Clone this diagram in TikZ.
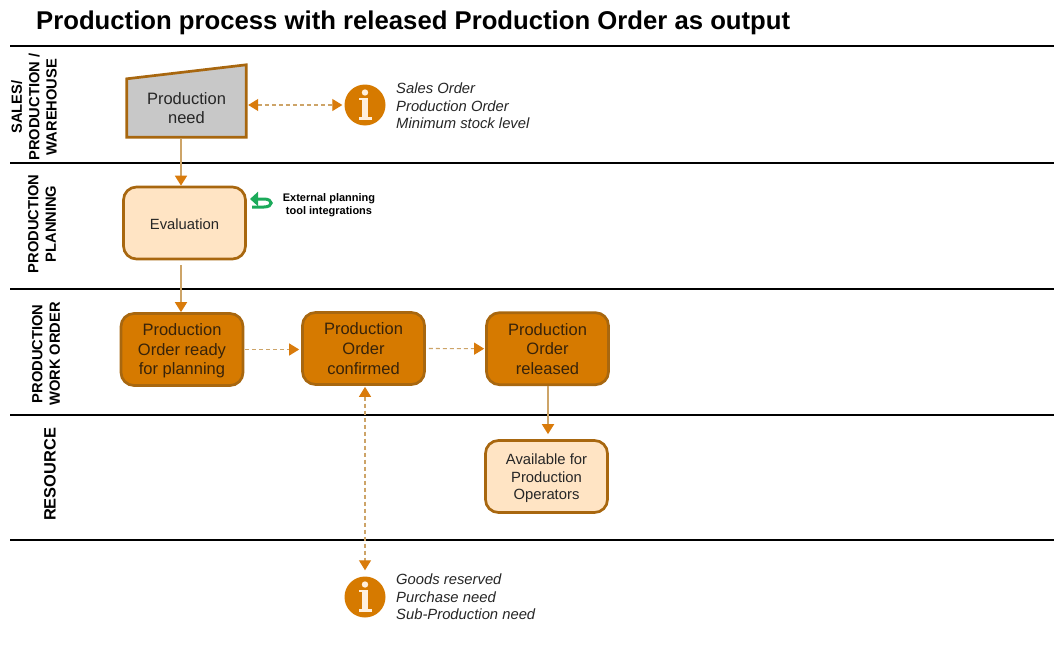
\documentclass[tikz,border=0pt]{standalone}
\usepackage{fontspec}
\setmainfont{Liberation Sans}
\usetikzlibrary{arrows.meta,backgrounds,calc}
\definecolor{tipc}{HTML}{D97B0B}
\definecolor{linec}{HTML}{CDA468}
\definecolor{edge}{HTML}{A8670F}
\definecolor{darkf}{HTML}{D67A00}
\definecolor{lightf}{HTML}{FFE4C4}
\definecolor{greyf}{HTML}{C8C8C8}
\definecolor{txt}{HTML}{262626}
\definecolor{darktxt}{HTML}{38230A}
\definecolor{gr}{HTML}{1BAA5A}
\tikzset{
  x=1pt,y=-1pt,
  lane/.style={draw=black,line width=1.4pt},
  lanelabel/.style={rotate=90,align=center,font=\fontsize{14.7}{17.4}\selectfont\bfseries,text=black,inner sep=0pt},
  box/.style={draw=edge,rounded corners=13pt,line width=2.7pt,minimum width=122pt,minimum height=72pt,inner sep=0pt,align=center},
  darkbox/.style={box,fill=darkf,text=darktxt,font=\fontsize{16.5}{19.6}\selectfont},
  lightbox/.style={box,fill=lightf,text=txt,font=\fontsize{14.8}{17.6}\selectfont},
  info/.style={circle,fill=darkf,minimum size=41pt,inner sep=0pt},
  note/.style={anchor=west,align=left,inner sep=0pt,text=txt,font=\fontsize{14.8}{17.7}\selectfont\itshape},
  flow/.style={draw=linec,line width=1.8pt,-{Triangle[length=10pt,width=12pt,color=tipc]}},
  dflow/.style={flow,dashed,line width=1.1pt,dash pattern=on 4pt off 3pt},
  bflow/.style={dflow,{Triangle[length=10pt,width=12pt,color=tipc]}-{Triangle[length=10pt,width=12pt,color=tipc]}},
}
\newcommand{\infoglyph}[1]{%
  \fill[lightf!60!white] ([shift={(0,-12.5)}]#1.center) circle (3.2pt);
  \fill[lightf!60!white] ([shift={(-6,-7)}]#1.center) rectangle ([shift={(3,-4.6)}]#1.center);
  \fill[lightf!60!white] ([shift={(-3,-7)}]#1.center) rectangle ([shift={(3,13)}]#1.center);
  \fill[lightf!60!white] ([shift={(-6,12)}]#1.center) rectangle ([shift={(6.5,15)}]#1.center);
}
\begin{document}
\begin{tikzpicture}
\useasboundingbox (0,0) rectangle (1054,661);
\begin{scope}[on background layer]
  \fill[white] (0,0) rectangle (1054,661);
\end{scope}

\node[anchor=west,inner sep=0pt,font=\fontsize{25.7}{28}\selectfont\bfseries,text=black] (title) at (36,23) {Production process with released Production Order as output};

% lanes
\foreach \n/\y in {a/46,b/163,c/289,d/415,e/540}{
  \coordinate (l\n) at (10,\y);
  \coordinate (r\n) at (1054,\y);
  \draw[lane] (l\n) -- (r\n);
}
\node[lanelabel] (lab1) at (34,107) {SALES/\\PRODUCTION /\\WAREHOUSE};
\node[lanelabel] (lab2) at (42,224) {PRODUCTION\\PLANNING};
\node[lanelabel] (lab3) at (46,354) {PRODUCTION\\WORK ORDER};
\node[lanelabel,font=\fontsize{16.4}{19}\selectfont\bfseries] (lab4) at (50,474.5) {RESOURCE};

% nodes
\node[minimum width=119pt,minimum height=58pt,inner sep=0pt,align=center,text=txt,font=\fontsize{16.5}{19.6}\selectfont] (need) at (186.5,108) {Production\\need};
\begin{scope}[on background layer]
  \draw[edge,fill=greyf,line width=2.7pt,line join=miter] (need.south west) -- (need.north west) -- ([yshift=14]need.north east) -- (need.south east) -- cycle;
\end{scope}
\node[lightbox] (eval) at (184.5,223) {\rule{0pt}{12.6pt}Evaluation};
\node[darkbox] (ready) at (182,349.5) {\rule{0pt}{15pt}Production\\Order ready\\for planning};
\node[darkbox] (conf) at (363.5,348.5) {Production\\Order\\confirmed};
\node[darkbox] (rel) at (547.5,348.7) {Production\\Order\\released};
\node[lightbox] (avail) at (546.5,476.5) {\rule{0pt}{14.8pt}Available for\\Production\\Operators};

\node[info] (i1) at (365,105) {};
\node[info] (i2) at (365,597) {};
\infoglyph{i1}
\infoglyph{i2}
\node[note] (n1) at (396,106) {Sales Order\\Production Order\\Minimum stock level};
\node[note] (n2) at (396,597) {Goods reserved\\Purchase need\\Sub-Production need};
\node[align=center,inner sep=0pt,text=black,font=\fontsize{11}{12.8}\selectfont\bfseries] (ext) at (329,205) {External planning\\tool integrations};

% connectors
\draw[bflow,shorten <=2pt,shorten >=2pt] (need.east |- i1) -- (i1.west);
\draw[flow,shorten <=2pt] ([xshift=-5.5]need.south) -- ([xshift=-3.5]eval.north);
\draw[flow] ([xshift=-3.5,yshift=-5]eval.south) -- ([xshift=-1]ready.north);
\draw[dflow,shorten >=2pt,shorten <=1pt] (ready.east) -- (ready.east -| conf.west);
\draw[dflow,shorten >=1pt,shorten <=3pt] (conf.east) -- (rel.west);
\draw[flow,shorten >=5pt] ([xshift=0.5]rel.south) -- ([xshift=1.5]avail.north);
\draw[bflow,shorten <=1pt,shorten >=6pt] ([xshift=1.5]conf.south) -- (i2.north);

% green return arrow
\draw[gr,line width=3pt,-{Triangle[length=8pt,width=14pt]}] (252,207) -- (264,207) .. controls (273.5,207) and (273.5,199) .. (264,199) -- (250,199);
\end{tikzpicture}
\end{document}
